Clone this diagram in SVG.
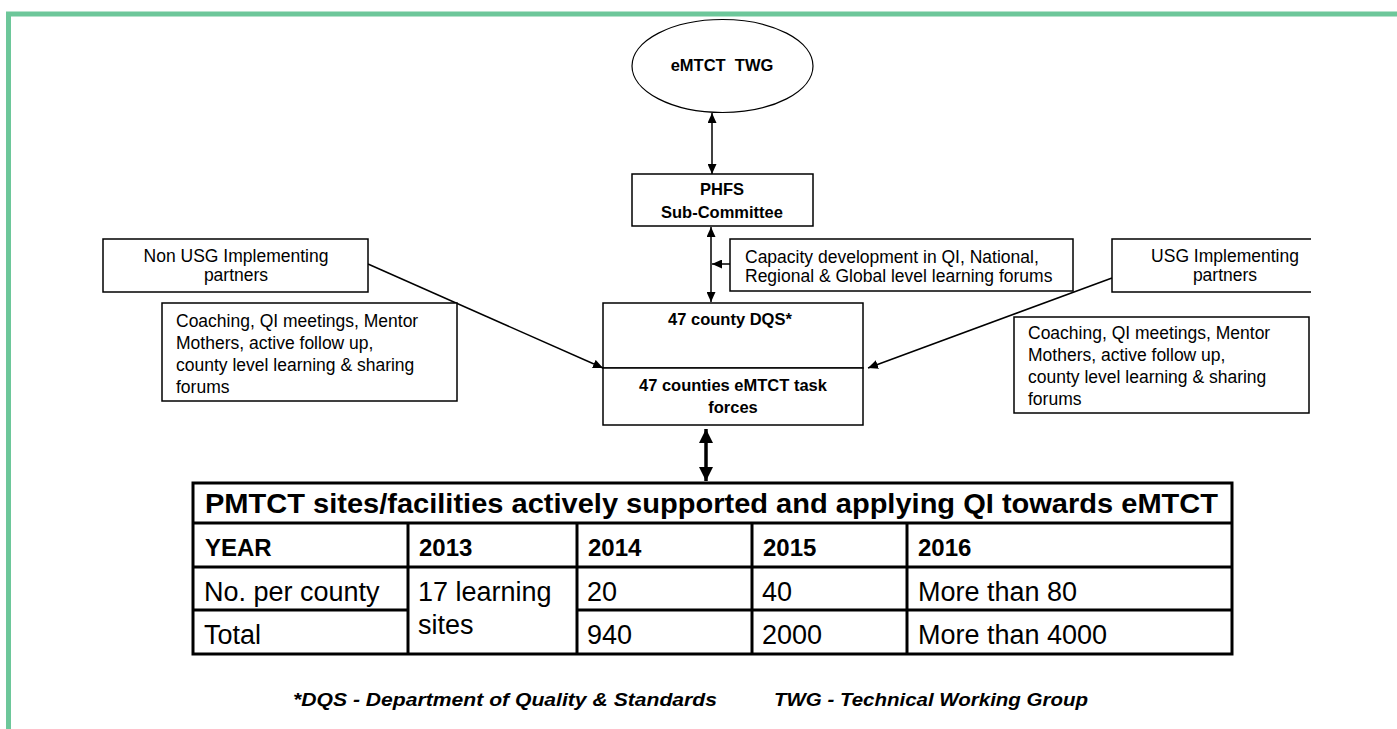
<svg xmlns="http://www.w3.org/2000/svg" width="1397" height="729" viewBox="0 0 1397 729">
<defs>
<marker id="ah" markerUnits="userSpaceOnUse" markerWidth="10" markerHeight="9" refX="10" refY="4.5" orient="auto-start-reverse"><path d="M0,0 L10,4.5 L0,9 z" fill="#000"/></marker>
<marker id="ahb" markerUnits="userSpaceOnUse" markerWidth="14" markerHeight="14" refX="14" refY="7" orient="auto-start-reverse"><path d="M0,0 L14,7 L0,14 z" fill="#000"/></marker>
<style>
.box{fill:#fff;stroke:#000;stroke-width:1.5}
.t{font-family:"Liberation Sans",Arial,sans-serif;font-size:17.5px;fill:#000}
.b{font-family:"Liberation Sans",Arial,sans-serif;font-size:16.5px;font-weight:bold;fill:#000}
.c{text-anchor:middle}
.con{stroke:#000;stroke-width:1.5;fill:none}
.tl{stroke:#000;stroke-width:3;fill:none}
.th{font-family:"Liberation Sans",Arial,sans-serif;font-size:24px;font-weight:bold;fill:#000}
.td{font-family:"Liberation Sans",Arial,sans-serif;font-size:27px;fill:#000}
.ft{font-family:"Liberation Sans",Arial,sans-serif;font-size:18px;font-weight:bold;font-style:italic;fill:#000}
</style>
</defs>
<rect width="1397" height="729" fill="#fff"/>
<g id="frame">
<line x1="6" y1="14" x2="1397" y2="14" stroke="#6DC79A" stroke-width="5"/>
<line x1="8.5" y1="12" x2="8.5" y2="729" stroke="#6DC79A" stroke-width="5"/>
</g>
<g id="connectors">
<line class="con" x1="712" y1="113" x2="712" y2="174" marker-start="url(#ah)" marker-end="url(#ah)"/>
<line class="con" x1="711" y1="227" x2="711" y2="302" marker-start="url(#ah)" marker-end="url(#ah)"/>
<line class="con" x1="730" y1="264" x2="712" y2="264" marker-end="url(#ah)"/>
<line class="con" x1="368" y1="264" x2="603" y2="368" marker-end="url(#ah)"/>
<line class="con" x1="1112" y1="278" x2="868" y2="368" marker-end="url(#ah)"/>
<line x1="706" y1="429" x2="706" y2="481" stroke="#000" stroke-width="3.5" marker-start="url(#ahb)" marker-end="url(#ahb)"/>
</g>
<g id="twg">
<ellipse cx="722.5" cy="66" rx="90.5" ry="46.5" fill="#fff" stroke="#000" stroke-width="1.2"/>
<text class="b c" x="722" y="71" xml:space="preserve">eMTCT  TWG</text>
</g>
<g id="phfs">
<rect class="box" x="632" y="174" width="181" height="52"/>
<text class="b c" x="722" y="195">PHFS</text>
<text class="b c" x="722" y="218">Sub-Committee</text>
</g>
<g id="capacity">
<rect class="box" x="730" y="239" width="343" height="52"/>
<text class="t" x="745" y="263">Capacity development in QI, National,</text>
<text class="t" x="745" y="282">Regional &amp; Global level learning forums</text>
</g>
<g id="nonusg">
<rect class="box" x="103" y="239" width="265" height="53"/>
<text class="t c" x="236" y="262">Non USG Implementing</text>
<text class="t c" x="236" y="281">partners</text>
</g>
<g id="nonusg-activities">
<rect class="box" x="162" y="303" width="295" height="98"/>
<text class="t" x="176" y="327">Coaching, QI meetings, Mentor</text>
<text class="t" x="176" y="349">Mothers, active follow up,</text>
<text class="t" x="176" y="371">county level learning &amp; sharing</text>
<text class="t" x="176" y="393">forums</text>
</g>
<g id="usg">
<path d="M1311,239 H1112 V292 H1311" class="box"/>
<text class="t c" x="1225" y="262">USG Implementing</text>
<text class="t c" x="1225" y="281">partners</text>
</g>
<g id="usg-activities">
<rect class="box" x="1014" y="317" width="295" height="96"/>
<text class="t" x="1028" y="339">Coaching, QI meetings, Mentor</text>
<text class="t" x="1028" y="361">Mothers, active follow up,</text>
<text class="t" x="1028" y="383">county level learning &amp; sharing</text>
<text class="t" x="1028" y="405">forums</text>
</g>
<g id="dqs">
<rect class="box" x="603" y="303" width="260" height="65"/>
<text class="b c" x="730" y="325">47 county DQS*</text>
</g>
<g id="taskforces">
<rect class="box" x="603" y="368" width="260" height="57"/>
<text class="b c" x="733" y="391">47 counties eMTCT task</text>
<text class="b c" x="733" y="413">forces</text>
</g>
<g id="table">
<rect class="tl" x="193" y="483" width="1039" height="171" fill="#fff"/>
<line class="tl" x1="193" y1="523" x2="1232" y2="523"/>
<line class="tl" x1="193" y1="567" x2="1232" y2="567"/>
<line class="tl" x1="193" y1="610" x2="408" y2="610"/>
<line class="tl" x1="577" y1="610" x2="1232" y2="610"/>
<line class="tl" x1="408" y1="523" x2="408" y2="654"/>
<line class="tl" x1="577" y1="523" x2="577" y2="654"/>
<line class="tl" x1="752" y1="523" x2="752" y2="654"/>
<line class="tl" x1="907" y1="523" x2="907" y2="654"/>
<text class="th" x="205" y="513" style="font-size:28px" textLength="1013" lengthAdjust="spacingAndGlyphs">PMTCT sites/facilities actively supported and applying QI towards eMTCT</text>
<text class="th" x="205" y="556">YEAR</text>
<text class="th" x="419" y="556">2013</text>
<text class="th" x="588" y="556">2014</text>
<text class="th" x="763" y="556">2015</text>
<text class="th" x="918" y="556">2016</text>
<text class="td" x="204" y="601">No. per county</text>
<text class="td" x="418" y="601">17 learning</text>
<text class="td" x="587" y="601">20</text>
<text class="td" x="762" y="601">40</text>
<text class="td" x="918" y="601">More than 80</text>
<text class="td" x="204" y="644">Total</text>
<text class="td" x="418" y="634">sites</text>
<text class="td" x="587" y="644">940</text>
<text class="td" x="762" y="644">2000</text>
<text class="td" x="918" y="644">More than 4000</text>
</g>
<g id="footer">
<text class="ft" x="293" y="706" textLength="424" lengthAdjust="spacingAndGlyphs">*DQS - Department of Quality &amp; Standards</text>
<text class="ft" x="774" y="706" textLength="314" lengthAdjust="spacingAndGlyphs">TWG - Technical Working Group</text>
</g>
</svg>
